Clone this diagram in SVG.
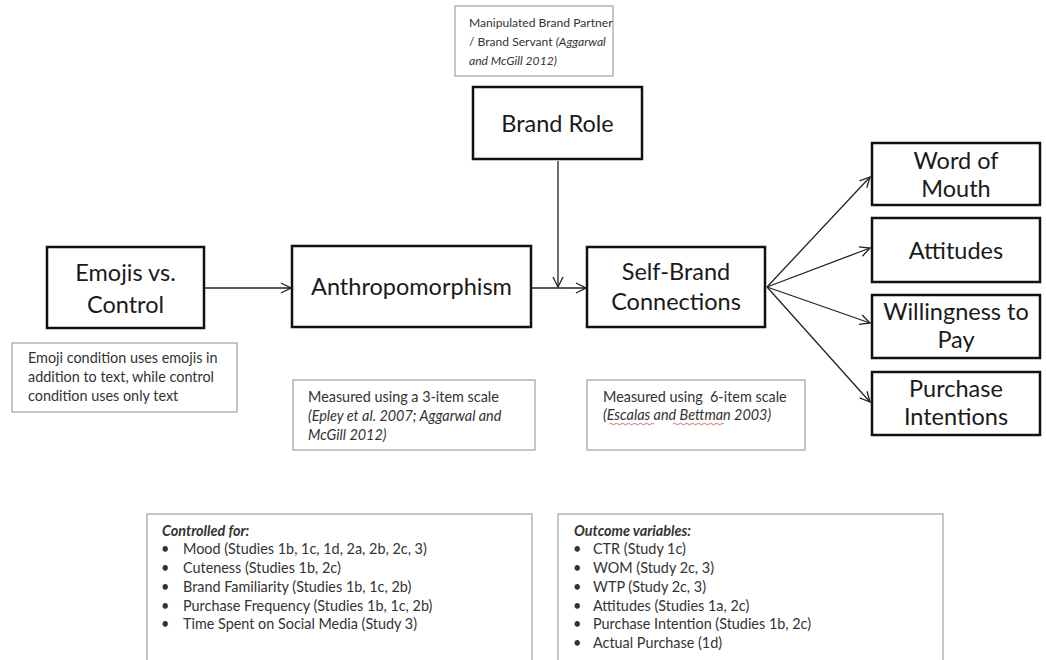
<svg xmlns="http://www.w3.org/2000/svg" width="1046" height="660" viewBox="0 0 1046 660">
<defs>
<marker id="arr" viewBox="0 0 12 12" refX="11" refY="6" markerWidth="12" markerHeight="12" markerUnits="userSpaceOnUse" orient="auto">
<path d="M1,1 L11,6 L1,11" fill="none" stroke="#222" stroke-width="1.3"/>
</marker>
<style>
.box{fill:#fff;stroke:#111;stroke-width:2.5}
.note{fill:#fff;stroke:#a0a0a0;stroke-width:1.2}
.big{font-family:Lato,"Open Sans","Liberation Sans",sans-serif;font-size:23.5px;fill:#1a1a1a;text-anchor:middle}
.sm{font-family:Lato,"Open Sans","Liberation Sans",sans-serif;font-size:14.4px;fill:#333}
.tn{font-size:12.1px}
.it{font-style:italic}
.b{font-weight:bold}
.con{stroke:#222;stroke-width:1.3;fill:none;marker-end:url(#arr)}
</style>
</defs>
<rect width="1046" height="660" fill="#fff"/>
<g id="connectors">
<line class="con" x1="204" y1="288" x2="291" y2="288"/>
<line class="con" x1="531" y1="288" x2="586" y2="288"/>
<line class="con" x1="558" y1="161" x2="558" y2="287"/>
<line class="con" x1="767" y1="287" x2="870" y2="177"/>
<line class="con" x1="767" y1="287" x2="870" y2="248"/>
<line class="con" x1="767" y1="287" x2="870" y2="323"/>
<line class="con" x1="767" y1="287" x2="870" y2="402"/>
</g>
<g id="brand-role-note">
<rect class="note" x="455" y="6" width="158" height="70"/>
<text class="sm tn" x="469" y="27">Manipulated Brand Partner</text>
<text class="sm tn" x="469" y="46">/ Brand Servant <tspan class="it">(Aggarwal</tspan></text>
<text class="sm tn it" x="469" y="65">and McGill 2012)</text>
</g>
<g id="brand-role">
<rect class="box" x="473" y="87" width="169" height="72"/>
<text class="big" x="557.5" y="132">Brand Role</text>
</g>
<g id="emojis">
<rect class="box" x="47" y="247" width="157" height="81"/>
<text class="big" x="125.5" y="281">Emojis vs.</text>
<text class="big" x="125.5" y="313">Control</text>
</g>
<g id="emoji-note">
<rect class="note" x="12" y="343" width="225" height="69"/>
<text class="sm" x="28" y="363">Emoji condition uses emojis in</text>
<text class="sm" x="28" y="382">addition to text, while control</text>
<text class="sm" x="28" y="401">condition uses only text</text>
</g>
<g id="anthropomorphism">
<rect class="box" x="292" y="246" width="239" height="81"/>
<text class="big" x="411.5" y="295">Anthropomorphism</text>
</g>
<g id="anthro-note">
<rect class="note" x="293" y="380" width="242" height="70"/>
<text class="sm" x="308" y="402">Measured using a 3-item scale</text>
<text class="sm it" x="308" y="421">(Epley et al. 2007; Aggarwal and</text>
<text class="sm it" x="308" y="440">McGill 2012)</text>
</g>
<g id="self-brand">
<rect class="box" x="587" y="247" width="178" height="80"/>
<text class="big" x="676" y="280">Self-Brand</text>
<text class="big" x="676" y="310">Connections</text>
</g>
<g id="sbc-note">
<rect class="note" x="587" y="380" width="218" height="70"/>
<text class="sm" x="603" y="402" xml:space="preserve">Measured using  6-item scale</text>
<text class="sm it" x="603" y="420">(Escalas and Bettman 2003)</text>
<path d="M609,424 q1.5,-1.5 3,0 t3,0 t3,0 t3,0 t3,0 t3,0 t3,0 t3,0 t3,0 t3,0 t3,0 t3,0 t3,0 t3,0 t3,0 M673,424 q1.5,-1.5 3,0 t3,0 t3,0 t3,0 t3,0 t3,0 t3,0 t3,0 t3,0 t3,0 t3,0 t3,0 t3,0 t3,0 t3,0 t3,0 t3,0" fill="none" stroke="#e04040" stroke-width="0.8"/>
</g>
<g id="word-of-mouth">
<rect class="box" x="872" y="143" width="168" height="62"/>
<text class="big" x="956" y="169">Word of</text>
<text class="big" x="956" y="197">Mouth</text>
</g>
<g id="attitudes">
<rect class="box" x="872" y="218" width="168" height="64"/>
<text class="big" x="956" y="259">Attitudes</text>
</g>
<g id="wtp">
<rect class="box" x="872" y="295" width="168" height="63"/>
<text class="big" x="956" y="320">Willingness to</text>
<text class="big" x="956" y="348">Pay</text>
</g>
<g id="purchase-intentions">
<rect class="box" x="872" y="372" width="168" height="63"/>
<text class="big" x="956" y="397">Purchase</text>
<text class="big" x="956" y="425">Intentions</text>
</g>
<g id="controlled">
<rect class="note" x="147" y="514" width="385" height="160"/>
<text class="sm it b" x="162" y="536">Controlled for:</text>
<g class="sm">
<text x="161" y="554">•</text><text x="183" y="554">Mood (Studies 1b, 1c, 1d, 2a, 2b, 2c, 3)</text>
<text x="161" y="573">•</text><text x="183" y="573">Cuteness (Studies 1b, 2c)</text>
<text x="161" y="592">•</text><text x="183" y="592">Brand Familiarity (Studies 1b, 1c, 2b)</text>
<text x="161" y="611">•</text><text x="183" y="611">Purchase Frequency (Studies 1b, 1c, 2b)</text>
<text x="161" y="629">•</text><text x="183" y="629">Time Spent on Social Media (Study 3)</text>
</g>
</g>
<g id="outcomes">
<rect class="note" x="558" y="514" width="385" height="160"/>
<text class="sm it b" x="574" y="536">Outcome variables:</text>
<g class="sm">
<text x="573" y="554">•</text><text x="593" y="554">CTR (Study 1c)</text>
<text x="573" y="573">•</text><text x="593" y="573">WOM (Study 2c, 3)</text>
<text x="573" y="592">•</text><text x="593" y="592">WTP (Study 2c, 3)</text>
<text x="573" y="611">•</text><text x="593" y="611">Attitudes (Studies 1a, 2c)</text>
<text x="573" y="629">•</text><text x="593" y="629">Purchase Intention (Studies 1b, 2c)</text>
<text x="573" y="648">•</text><text x="593" y="648">Actual Purchase (1d)</text>
</g>
</g>
</svg>
